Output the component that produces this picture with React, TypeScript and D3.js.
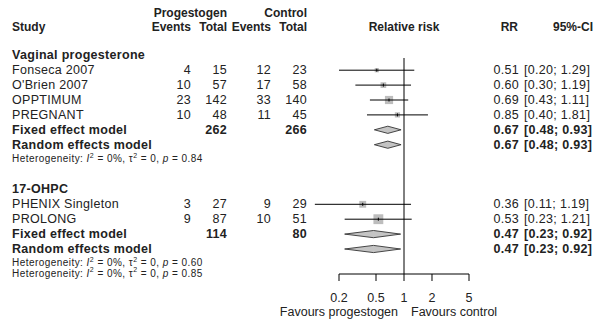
import React, { useEffect } from "react";
import * as d3 from "d3";

// study level data
const groups = ["Vaginal progesterone", "17-OHPC"];
const studies = ["Fonseca 2007", "O'Brien 2007", "OPPTIMUM", "PREGNANT", "PHENIX Singleton", "PROLONG"];
const studyGroup = [0, 0, 0, 0, 1, 1];
const progEvents = [4, 10, 23, 10, 3, 9];
const progTotal = [15, 57, 142, 48, 27, 87];
const ctrlEvents = [12, 17, 33, 11, 9, 10];
const ctrlTotal = [23, 58, 140, 45, 29, 51];
const rr = [0.51, 0.6, 0.69, 0.85, 0.36, 0.53];
const ciLow = [0.2, 0.3, 0.43, 0.4, 0.11, 0.23];
const ciHigh = [1.29, 1.19, 1.11, 1.81, 1.19, 1.21];

// subgroup pooled results
const groupProgTotal = [262, 114];
const groupCtrlTotal = [266, 80];
const pooledRR = [0.67, 0.47];
const pooledLow = [0.48, 0.23];
const pooledHigh = [0.93, 0.92];
const hetI2 = ["0%", "0%"];
const hetTau2 = ["0", "0"];
const hetP = ["0.84", "0.60"];
const overallHetP = "0.85";

const tickValues = [0.2, 0.5, 1, 2, 5];

const W = 596;
const H = 322;
const FONT = "Arial, 'Liberation Sans', sans-serif";
const TXT = "#222";

const rowY = (r: number) => 55.3 + r * 14.9;
const x = d3.scaleLog().domain([0.2, 5]).range([339, 469]);

// inverse variance weight of log RR, used for square size
const weight = (i: number) =>
  1 / (1 / progEvents[i] - 1 / progTotal[i] + 1 / ctrlEvents[i] - 1 / ctrlTotal[i]);

const fmt = d3.format(".2f");
const ciText = (lo: number, hi: number) => "[" + fmt(lo) + "; " + fmt(hi) + "]";

function HetText({ y, i2, tau, p }: { y: number; i2: string; tau: string; p: string }) {
  return (
    <text x={12} y={y} fontSize={10} letterSpacing={0.45} fill={TXT} dominantBaseline="central">
      <tspan>Heterogeneity: </tspan>
      <tspan fontStyle="italic">I</tspan>
      <tspan dy={-3.5} fontSize={7}>2</tspan>
      <tspan dy={3.5}>{" = " + i2 + ", \u03c4"}</tspan>
      <tspan dy={-3.5} fontSize={7}>2</tspan>
      <tspan dy={3.5}>{" = " + tau + ", "}</tspan>
      <tspan fontStyle="italic">p</tspan>
      <tspan>{" = " + p}</tspan>
    </text>
  );
}

function Forest() {
  const groupStart = [0, 9];
  const rows: JSX.Element[] = [];

  const colProgE = 191;
  const colProgT = 227;
  const colCtrlE = 271;
  const colCtrlT = 307;
  const colRR = 519;
  const colCI = 524;

  let lastHetY = 0;

  groups.forEach((g, gi) => {
    const start = groupStart[gi];
    rows.push(
      <text key={"g" + gi} x={12} y={rowY(start)} fontWeight="bold" dominantBaseline="central">
        {g}
      </text>
    );
    const idx = studies.map((_, i) => i).filter((i) => studyGroup[i] === gi);
    const totalW = d3.sum(idx, (i) => weight(i));
    const side = d3.scaleSqrt().domain([0, 100]).range([0, 12]);
    idx.forEach((i, k) => {
      const y = rowY(start + 1 + k);
      const s = side((weight(i) / totalW) * 100);
      rows.push(
        <g key={"s" + i}>
          <text x={12} y={y} dominantBaseline="central">{studies[i]}</text>
          <text x={colProgE} y={y} textAnchor="end" dominantBaseline="central">{progEvents[i]}</text>
          <text x={colProgT} y={y} textAnchor="end" dominantBaseline="central">{progTotal[i]}</text>
          <text x={colCtrlE} y={y} textAnchor="end" dominantBaseline="central">{ctrlEvents[i]}</text>
          <text x={colCtrlT} y={y} textAnchor="end" dominantBaseline="central">{ctrlTotal[i]}</text>
          <rect x={x(rr[i]) - s / 2} y={y - s / 2} width={s} height={s} fill="#bdbdbd" />
          <line x1={x(ciLow[i])} x2={x(ciHigh[i])} y1={y} y2={y} stroke="#000" strokeWidth={1} />
          <line x1={x(rr[i])} x2={x(rr[i])} y1={y - 1.5} y2={y + 1.5} stroke="#000" strokeWidth={1} />
          <text x={colRR} y={y} textAnchor="end" dominantBaseline="central">{fmt(rr[i])}</text>
          <text x={colCI} y={y} dominantBaseline="central">{ciText(ciLow[i], ciHigh[i])}</text>
        </g>
      );
    });
    const nStudies = idx.length;
    ["Fixed effect model", "Random effects model"].forEach((label, m) => {
      const y = rowY(start + 1 + nStudies + m);
      const lo = x(pooledLow[gi]);
      const hi = x(pooledHigh[gi]);
      const c = x(pooledRR[gi]);
      const h = 3.6;
      rows.push(
        <g key={"m" + gi + m} fontWeight="bold">
          <text x={12} y={y} dominantBaseline="central">{label}</text>
          {m === 0 && (
            <>
              <text x={colProgT} y={y} textAnchor="end" dominantBaseline="central">{groupProgTotal[gi]}</text>
              <text x={colCtrlT} y={y} textAnchor="end" dominantBaseline="central">{groupCtrlTotal[gi]}</text>
            </>
          )}
          <path
            d={`M${lo},${y} L${c},${y - h} L${hi},${y} L${c},${y + h} Z`}
            fill="#c4c4c4"
            stroke="#333"
            strokeWidth={0.9}
          />
          <text x={colRR} y={y} textAnchor="end" dominantBaseline="central">{fmt(pooledRR[gi])}</text>
          <text x={colCI} y={y} dominantBaseline="central">{ciText(pooledLow[gi], pooledHigh[gi])}</text>
        </g>
      );
    });
    lastHetY = rowY(start + 3 + nStudies) - 1.5;
    rows.push(
      <HetText key={"h" + gi} y={lastHetY} i2={hetI2[gi]} tau={hetTau2[gi]} p={hetP[gi]} />
    );
  });

  const axisY = 274;

  return (
    <svg width={W} height={H} style={{ display: "block", background: "#fff" }} fontFamily={FONT} fontSize={12.5} fill={TXT}>
      {/* header */}
      <g fontWeight="bold" fill={TXT} fontSize={12}>
        <text x={227} y={13} textAnchor="end" dominantBaseline="central">Progestogen</text>
        <text x={307} y={13} textAnchor="end" dominantBaseline="central">Control</text>
        <text x={12} y={27} dominantBaseline="central">Study</text>
        <text x={191} y={27} textAnchor="end" dominantBaseline="central">Events</text>
        <text x={227} y={27} textAnchor="end" dominantBaseline="central">Total</text>
        <text x={271} y={27} textAnchor="end" dominantBaseline="central">Events</text>
        <text x={307} y={27} textAnchor="end" dominantBaseline="central">Total</text>
        <text x={x(1)} y={27} textAnchor="middle" dominantBaseline="central">Relative risk</text>
        <text x={518} y={27} textAnchor="end" dominantBaseline="central">RR</text>
        <text x={593} y={27} textAnchor="end" dominantBaseline="central">95%-CI</text>
      </g>

      {/* null line */}
      <line x1={x(1)} x2={x(1)} y1={58} y2={axisY} stroke="#000" strokeWidth={1} />

      <g fill={TXT} letterSpacing={0.3}>{rows}</g>

      <HetText y={lastHetY + 10.5} i2="0%" tau="0" p={overallHetP} />

      {/* axis */}
      <line x1={x(0.2)} x2={x(5)} y1={axisY} y2={axisY} stroke="#000" strokeWidth={1} />
      {tickValues.map((t) => (
        <g key={t}>
          <line x1={x(t)} x2={x(t)} y1={axisY} y2={axisY + 7} stroke="#000" strokeWidth={1} />
          <text x={x(t)} y={298} textAnchor="middle" dominantBaseline="central" fill={TXT}>
            {String(t)}
          </text>
        </g>
      ))}
      <text x={x(1) - 6} y={312} textAnchor="end" dominantBaseline="central" fill={TXT}>Favours progestogen</text>
      <text x={x(1) + 7} y={312} textAnchor="start" dominantBaseline="central" fill={TXT}>Favours control</text>
    </svg>
  );
}

export default function App() {
  useEffect(() => {
    document.body.style.margin = "0";
  }, []);
  return <Forest />;
}
